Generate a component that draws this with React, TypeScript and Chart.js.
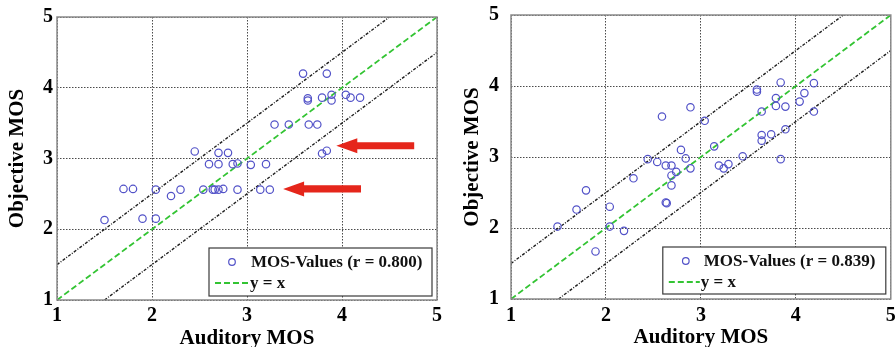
import React, { useEffect, useRef } from 'react';
import { Chart, registerables } from 'chart.js';

Chart.register(...registerables);

// ---- data ----
const AXIS_MIN = 1;
const AXIS_MAX = 5;
const AXIS_STEP = 1;
const X_TITLE = 'Auditory MOS';
const Y_TITLE = 'Objective MOS';
const BAND_OFFSETS = [0.5, -0.5];
const IDENTITY_LABEL = 'y = x';

const leftAuditory = [1.50, 1.70, 1.80, 1.90, 2.04, 2.04, 2.20, 2.30, 2.45, 2.54, 2.60, 2.64, 2.66, 2.70, 2.70, 2.70, 2.75, 2.80, 2.85, 2.90, 2.90, 3.04, 3.14, 3.20, 3.24, 3.29, 3.44, 3.59, 3.64, 3.64, 3.65, 3.74, 3.79, 3.79, 3.84, 3.84, 3.89, 3.89, 4.04, 4.09, 4.19];
const leftObjective = [2.13, 2.57, 2.57, 2.15, 2.15, 2.56, 2.47, 2.56, 3.10, 2.56, 2.92, 2.56, 2.56, 3.08, 2.92, 2.56, 2.57, 3.08, 2.92, 2.93, 2.56, 2.91, 2.56, 2.92, 2.56, 3.48, 3.48, 4.20, 3.85, 3.82, 3.48, 3.48, 3.86, 3.07, 4.20, 3.11, 3.90, 3.82, 3.90, 3.86, 3.86];
const leftLabel = 'MOS-Values (r = 0.800)';

const rightAuditory = [1.49, 1.69, 1.79, 1.89, 2.04, 2.04, 2.19, 2.29, 2.44, 2.54, 2.59, 2.63, 2.69, 2.63, 2.64, 2.69, 2.69, 2.74, 2.79, 2.84, 2.89, 2.89, 3.04, 3.14, 3.19, 3.24, 3.29, 3.44, 3.59, 3.59, 3.64, 3.64, 3.64, 3.74, 3.79, 3.79, 3.84, 3.84, 3.89, 3.89, 4.04, 4.09, 4.19, 4.19];
const rightObjective = [2.02, 2.26, 2.53, 1.67, 2.30, 2.02, 1.96, 2.70, 2.97, 2.93, 3.57, 2.88, 2.88, 2.36, 2.35, 2.74, 2.60, 2.79, 3.10, 2.98, 3.70, 2.84, 3.51, 3.15, 2.88, 2.84, 2.90, 3.01, 3.95, 3.92, 3.64, 3.31, 3.23, 3.32, 3.83, 3.72, 4.05, 2.97, 3.71, 3.39, 3.78, 3.90, 4.04, 3.64];
const rightLabel = 'MOS-Values (r = 0.839)';

// arrows (left chart only), in data units
const arrowTipX = [3.94, 3.38];
const arrowTipY = [3.18, 2.57];
const arrowTailX = [4.76, 4.20];

// ---- styles ----
const FONT = 'Liberation Serif';
const POINT_COLOR = '#5252c8';
const GREEN = '#33c433';
const BAND_COLOR = '#1e1e1e';
const GRID_COLOR = '#4a4a4a';
const FRAME_COLOR = '#8a8a8a';
const ARROW_COLOR = '#e5261b';

type Geom = {
  canvasLeft: number;
  padRight: number;
  padTop: number;
  yWidth: number;
  xHeight: number;
  yTickPad: number;
  xTickPad: number;
  yTitlePad: number;
  xTitlePad: number;
  legendRightOff: number;
  legendBottomOff: number;
  legendW: number;
  legendH: number;
  legendTextOff: number;
  legendLineEnd: number;
};

type Props = {
  xs: number[];
  ys: number[];
  label: string;
  arrows: boolean;
  geom: Geom;
};

function MosChart({ xs, ys, label, arrows, geom }: Props) {
  const ref = useRef<HTMLCanvasElement | null>(null);

  useEffect(() => {
    if (!ref.current) return;
    const pts = xs.map((x, i) => ({ x, y: ys[i] }));
    const identity = [
      { x: AXIS_MIN, y: AXIS_MIN },
      { x: AXIS_MAX, y: AXIS_MAX },
    ];
    const bands = BAND_OFFSETS.map((off) => {
      const x0 = Math.max(AXIS_MIN, AXIS_MIN - off);
      const x1 = Math.min(AXIS_MAX, AXIS_MAX - off);
      return [
        { x: x0, y: x0 + off },
        { x: x1, y: x1 + off },
      ];
    });

    const framePlugin = {
      id: 'frame',
      beforeDraw(chart: any) {
        const c = chart.ctx;
        c.save();
        c.fillStyle = '#fff';
        c.fillRect(0, 0, chart.width, chart.height);
        c.restore();
      },
      afterDatasetsDraw(chart: any) {
        const c = chart.ctx;
        const a = chart.chartArea;
        c.save();
        c.strokeStyle = FRAME_COLOR;
        c.lineWidth = 1.5;
        c.strokeRect(a.left, a.top, a.right - a.left, a.bottom - a.top);

        // arrows
        if (arrows) {
          const sx = chart.scales.x;
          const sy = chart.scales.y;
          c.fillStyle = ARROW_COLOR;
          arrowTipX.forEach((tx, i) => {
            const x1 = sx.getPixelForValue(tx);
            const y = sy.getPixelForValue(arrowTipY[i]);
            const x2 = sx.getPixelForValue(arrowTailX[i]);
            const hl = 21, hh = 7.5, sh = 3.6;
            c.beginPath();
            c.moveTo(x1, y);
            c.lineTo(x1 + hl, y - hh);
            c.lineTo(x1 + hl, y - sh);
            c.lineTo(x2, y - sh);
            c.lineTo(x2, y + sh);
            c.lineTo(x1 + hl, y + sh);
            c.lineTo(x1 + hl, y + hh);
            c.closePath();
            c.fill();
          });
        }

        // legend
        const bx = a.right - geom.legendRightOff - geom.legendW;
        const by = a.bottom - geom.legendBottomOff - geom.legendH;
        c.fillStyle = '#fff';
        c.fillRect(bx, by, geom.legendW, geom.legendH);
        c.strokeStyle = '#3a3a3a';
        c.lineWidth = 1.2;
        c.strokeRect(bx, by, geom.legendW, geom.legendH);
        c.font = `bold 17px '${FONT}'`;
        c.textBaseline = 'middle';
        c.textAlign = 'left';
        c.fillStyle = '#111';
        const row1 = by + 14;
        const row2 = by + 35;
        c.strokeStyle = POINT_COLOR;
        c.lineWidth = 1.2;
        c.beginPath();
        c.arc(bx + 23, row1, 3.3, 0, Math.PI * 2);
        c.stroke();
        c.fillText(label, bx + geom.legendTextOff, row1 + 1);
        c.strokeStyle = GREEN;
        c.lineWidth = 1.8;
        c.setLineDash([6, 3]);
        c.beginPath();
        c.moveTo(bx + 6, row2);
        c.lineTo(bx + geom.legendLineEnd, row2);
        c.stroke();
        c.setLineDash([]);
        c.fillText(IDENTITY_LABEL, bx + geom.legendLineEnd + 1, row2 + 1);
        c.restore();
      },
    };

    const tickFont = { family: FONT, size: 20, weight: 'bold' as const };
    const titleFont = { family: FONT, size: 21, weight: 'bold' as const, lineHeight: 1 };

    const chart = new Chart(ref.current, {
      type: 'scatter',
      data: {
        datasets: [
          {
            type: 'scatter',
            label,
            data: pts,
            pointStyle: 'circle',
            pointRadius: 3.7,
            borderColor: POINT_COLOR,
            backgroundColor: 'rgba(0,0,0,0)',
            borderWidth: 1.2,
          } as any,
          {
            type: 'line',
            label: IDENTITY_LABEL,
            data: identity,
            borderColor: GREEN,
            borderDash: [6, 3],
            borderWidth: 1.8,
            pointRadius: 0,
            fill: false,
          } as any,
          ...bands.map(
            (b) =>
              ({
                type: 'line',
                label: 'band',
                data: b,
                borderColor: BAND_COLOR,
                borderDash: [3, 1.5, 1, 1.5],
                borderWidth: 1.4,
                pointRadius: 0,
                fill: false,
              }) as any
          ),
        ],
      },
      options: {
        responsive: false,
        animation: false,
        events: [],
        layout: {
          padding: { left: 0, right: geom.padRight, top: geom.padTop, bottom: 0 },
        },
        plugins: {
          legend: { display: false },
          tooltip: { enabled: false },
        },
        scales: {
          x: {
            type: 'linear',
            min: AXIS_MIN,
            max: AXIS_MAX,
            ticks: {
              stepSize: AXIS_STEP,
              font: tickFont,
              color: '#000',
              padding: geom.xTickPad,
              maxRotation: 0,
              autoSkip: false,
            },
            grid: { color: GRID_COLOR, lineWidth: 1, drawTicks: false },
            border: { display: false, dash: [1.5, 1.5] },
            title: {
              display: true,
              text: X_TITLE,
              font: titleFont,
              color: '#000',
              padding: { top: 0, bottom: geom.xTitlePad },
            },
            afterFit(s: any) {
              s.height = geom.xHeight;
              s.paddingLeft = 0;
              s.paddingRight = 0;
            },
          },
          y: {
            type: 'linear',
            min: AXIS_MIN,
            max: AXIS_MAX,
            ticks: {
              stepSize: AXIS_STEP,
              font: tickFont,
              color: '#000',
              padding: geom.yTickPad,
            },
            grid: { color: GRID_COLOR, lineWidth: 1, drawTicks: false },
            border: { display: false, dash: [1.5, 1.5] },
            title: {
              display: true,
              text: Y_TITLE,
              font: titleFont,
              color: '#000',
              padding: { top: geom.yTitlePad, bottom: 0 },
            },
            afterFit(s: any) {
              s.width = geom.yWidth;
              s.paddingTop = 0;
              s.paddingBottom = 0;
            },
          },
        },
      },
      plugins: [framePlugin],
    } as any);

    return () => chart.destroy();
  }, [xs, ys, label, arrows, geom]);

  return (
    <canvas
      ref={ref}
      width={448}
      height={347}
      style={{ position: 'absolute', left: geom.canvasLeft, top: 0, width: 448, height: 347, display: 'block' }}
    />
  );
}

const leftGeom: Geom = {
  canvasLeft: 0,
  padRight: 11,
  padTop: 17,
  yWidth: 57,
  xHeight: 47,
  yTickPad: 4,
  xTickPad: 4,
  yTitlePad: 7.5,
  xTitlePad: -2,
  legendRightOff: 5,
  legendBottomOff: 4,
  legendW: 223,
  legendH: 48,
  legendTextOff: 42,
  legendLineEnd: 40,
};

const rightGeom: Geom = {
  canvasLeft: 448,
  padRight: 4,
  padTop: 15,
  yWidth: 63,
  xHeight: 48,
  yTickPad: 12,
  xTickPad: 5,
  yTitlePad: 14.5,
  xTitlePad: -1,
  legendRightOff: 5,
  legendBottomOff: 5,
  legendW: 223,
  legendH: 47,
  legendTextOff: 41,
  legendLineEnd: 37,
};

export default function App() {
  return (
    <div style={{ position: 'fixed', left: 0, top: 0, width: 896, height: 347, background: '#fff', overflow: 'hidden' }}>
      <MosChart xs={leftAuditory} ys={leftObjective} label={leftLabel} arrows={true} geom={leftGeom} />
      <MosChart xs={rightAuditory} ys={rightObjective} label={rightLabel} arrows={false} geom={rightGeom} />
    </div>
  );
}
